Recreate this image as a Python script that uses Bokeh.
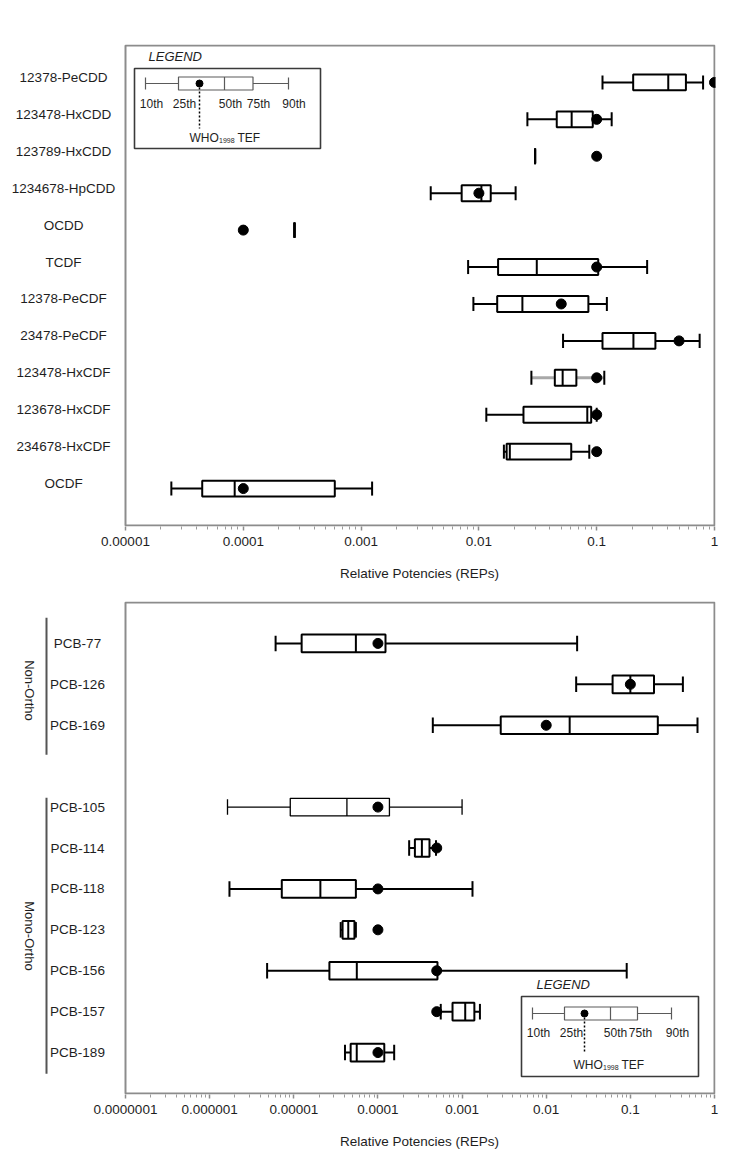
import math
from bokeh.plotting import figure
from bokeh.layouts import column
from bokeh.models import Range1d, FixedTicker, CustomJSTickFormatter, ColumnDataSource, Title
from bokeh.embed import file_html
from bokeh.resources import INLINE
from bokeh.core.properties import value

# ---------------- data: top panel (PCDD/PCDF) ----------------
top_names = ["12378-PeCDD", "123478-HxCDD", "123789-HxCDD", "1234678-HpCDD", "OCDD", "TCDF",
             "12378-PeCDF", "23478-PeCDF", "123478-HxCDF", "123678-HxCDF", "234678-HxCDF", "OCDF"]
top_pos = [1, 2, 3, 4, 5, 6, 7, 8, 9, 10, 11, 12]
top_p10 = [0.112, 0.0258, 0.030, 0.0039, 0.000272, 0.0081, 0.00898, 0.0518, 0.0279, 0.01156, 0.0163, 2.45e-5]
top_p25 = [0.204, 0.0458, 0.030, 0.00714, 0.000272, 0.01455, 0.0143, 0.112, 0.0441, 0.0239, 0.0172, 4.48e-5]
top_p50 = [0.405, 0.0613, 0.030, 0.0105, 0.000272, 0.031, 0.0234, 0.205, 0.0514, 0.0832, 0.0183, 8.45e-5]
top_p75 = [0.572, 0.0926, 0.030, 0.0126, 0.000272, 0.103, 0.085, 0.315, 0.0672, 0.0898, 0.0608, 5.98e-4]
top_p90 = [0.80, 0.134, 0.030, 0.0205, 0.000272, 0.268, 0.122, 0.748, 0.116, 0.1, 0.0865, 1.24e-3]
top_tef = [1.0, 0.1, 0.1, 0.01, 0.0001, 0.1, 0.05, 0.5, 0.1, 0.1, 0.1, 0.0001]

# ---------------- data: bottom panel (PCBs) ----------------
bot_names = ["PCB-77", "PCB-126", "PCB-169", "PCB-105", "PCB-114", "PCB-118", "PCB-123",
             "PCB-156", "PCB-157", "PCB-189"]
bot_pos = [1, 2, 3, 5, 6, 7, 8, 9, 10, 11]
bot_p10 = [6.08e-6, 0.0227, 4.49e-4, 1.63e-6, 2.35e-4, 1.72e-6, 3.61e-5, 4.82e-6, 5.58e-4, 4.06e-5]
bot_p25 = [1.24e-5, 0.0615, 2.88e-3, 9.08e-6, 2.75e-4, 7.2e-6, 3.8e-5, 2.65e-5, 7.7e-4, 4.74e-5]
bot_p50 = [5.47e-5, 0.1, 0.019, 4.28e-5, 3.33e-4, 2.07e-5, 4.44e-5, 5.61e-5, 1.09e-3, 5.6e-5]
bot_p75 = [1.23e-4, 0.191, 0.212, 1.37e-4, 4.10e-4, 5.47e-5, 5.26e-5, 5.1e-4, 1.40e-3, 1.19e-4]
bot_p90 = [0.0233, 0.421, 0.628, 0.001, 4.9e-4, 1.33e-3, 5.47e-5, 0.0905, 1.63e-3, 1.56e-4]
bot_tef = [1e-4, 0.1, 0.01, 1e-4, 5e-4, 1e-4, 1e-4, 5e-4, 5e-4, 1e-4]

groups = ["Non-Ortho", "Mono-Ortho"]
group_first = [1, 5]
group_last = [3, 11]

tick_decades_top = [-5, -4, -3, -2, -1, 0]
tick_decades_bot = [-7, -6, -5, -4, -3, -2, -1, 0]
axis_title = "Relative Potencies (REPs)"
legend_labels = ["10th", "25th", "50th", "75th", "90th"]

# styles (not data)
top_whisker_color = ["black"] * 8 + ["#a8a8a8"] + ["black"] * 3
top_whisker_width = [2] * 8 + [3] + [2] * 3
bot_line_width = [2, 2, 2, 1.3, 2, 2, 2, 2, 2, 2]
group_line_pad_start = [0.63, 0.23]
group_line_pad_end = [0.72, 0.52]

FONT = "Liberation Sans"
TXT = "#1e1e1e"
GRAY = "#8c8c8c"
BOX_X0, BOX_X1 = 125, 714  # page x of the plotting box


class Panel:
    """One panel: a log x axis under a box; the label area is part of the frame."""

    def __init__(self, decades, y_max, y0, y1, top_border, bottom_border):
        self.lo, self.hi = decades[0], decades[-1]
        self.y0, self.y1 = y0, y1
        self.y_max = y_max
        self.lpp = (self.hi - self.lo) / (BOX_X1 - BOX_X0)   # decades per pixel
        self.upp = y_max / (y1 - y0)                          # rows per pixel
        x_start = 10.0 ** (self.lo - BOX_X0 * self.lpp)
        x_end = 10.0 ** (self.hi + self.lpp)
        p = figure(x_axis_type="log", x_range=Range1d(x_start, x_end),
                   y_range=Range1d(y_max + self.upp, -self.upp),
                   frame_width=BOX_X1 + 1, frame_height=(y1 - y0) + 2,
                   min_border_top=top_border, min_border_bottom=bottom_border,
                   min_border_left=0, min_border_right=20,
                   output_backend="svg", toolbar_location=None, y_axis_location=None,
                   background_fill_color="white", border_fill_color="white")
        p.grid.visible = False
        p.outline_line_color = None
        ax = p.xaxis[0]
        major = [10.0 ** d for d in decades]
        minor = [m * 10.0 ** d for d in decades[:-1] for m in range(2, 10)]
        ax.ticker = FixedTicker(ticks=major, minor_ticks=minor)
        ax.formatter = CustomJSTickFormatter(
            code="const d = Math.max(0, -Math.round(Math.log10(tick))); return tick.toFixed(d);")
        ax.axis_line_color = None
        ax.major_tick_line_color = GRAY
        ax.major_tick_line_width = 1.5
        ax.minor_tick_line_color = "#9a9a9a"
        ax.major_tick_in = 0
        ax.major_tick_out = 4
        ax.minor_tick_in = 0
        ax.minor_tick_out = 3
        ax.major_label_standoff = 6
        ax.major_label_text_font = FONT
        ax.major_label_text_font_size = "13.5px"
        ax.major_label_text_color = TXT
        # axis title, centred under the plotting box (not under the whole frame)
        p.add_layout(Title(text=axis_title, align="left", offset=(BOX_X0 + BOX_X1) / 2 - 80,
                           text_font=FONT, text_font_size="13.5px", text_font_style="normal",
                           text_color=TXT, standoff=31), "below")
        # plotting box
        p.quad(left=[10.0 ** self.lo], right=[10.0 ** self.hi], top=[0], bottom=[y_max],
               fill_color=None, line_color=GRAY, line_width=2)
        self.p = p

    def dx(self, px):
        return 10.0 ** (self.lo + (px - BOX_X0) * self.lpp)

    def dy(self, py):
        return (py - self.y0) * self.upp

    def boxes(self, pos, p10, p25, p50, p75, p90, tef, wcol, wwid, lw):
        hb, hc = 0.215, 0.19
        src = ColumnDataSource(dict(
            y=pos, p10=p10, p25=p25, p50=p50, p75=p75, p90=p90, tef=tef,
            yt=[v - hb for v in pos], yb=[v + hb for v in pos],
            ct=[v - hc for v in pos], cb=[v + hc for v in pos],
            wcol=wcol, wwid=wwid, lw=lw))
        p = self.p
        p.segment(x0="p10", y0="y", x1="p90", y1="y", line_color="wcol", line_width="wwid", source=src)
        p.segment(x0="p10", y0="ct", x1="p10", y1="cb", line_color="black", line_width="lw", source=src)
        p.segment(x0="p90", y0="ct", x1="p90", y1="cb", line_color="black", line_width="lw", source=src)
        p.quad(left="p25", right="p75", top="yt", bottom="yb", fill_color="white",
               line_color="black", line_width="lw", source=src)
        p.segment(x0="p50", y0="yt", x1="p50", y1="yb", line_color="black", line_width="lw", source=src)
        p.scatter(x="tef", y="y", size=10, color="black", source=src)

    def row_labels(self, names, pos, center_px, y_off):
        self.p.text(x=[self.dx(center_px)] * len(names), y=pos, text=names, text_font=value(FONT),
                    text_font_size="13.5px", text_color=TXT, text_align="center",
                    text_baseline="middle", y_offset=y_off)

    def legend(self, L):
        p, dx, dy = self.p, self.dx, self.dy
        gcol = "#5a5a5a"
        p.quad(left=[dx(L["bx0"])], right=[dx(L["bx1"])], top=[dy(L["by0"])], bottom=[dy(L["by1"])],
               fill_color="white", line_color="#3a3a3a", line_width=1.6)
        p.text(x=[dx(L["title_x"])], y=[dy(L["title_y"])], text=["LEGEND"], text_font=value(FONT),
               text_font_size="13px", text_font_style="italic", text_color=TXT,
               text_align="left", text_baseline="middle")
        wy = dy(L["wy"])
        p.segment(x0=[dx(L["w0"])], y0=[wy], x1=[dx(L["w1"])], y1=[wy], line_color=gcol, line_width=1.2)
        for xx in (L["w0"], L["w1"]):
            p.segment(x0=[dx(xx)], y0=[dy(L["wy"] - 6)], x1=[dx(xx)], y1=[dy(L["wy"] + 6)],
                      line_color=gcol, line_width=1.2)
        p.quad(left=[dx(L["q0"])], right=[dx(L["q1"])], top=[dy(L["wy"] - 6.5)],
               bottom=[dy(L["wy"] + 6.5)], fill_color="white", line_color=gcol, line_width=1.2)
        p.segment(x0=[dx(L["med"])], y0=[dy(L["wy"] - 6.5)], x1=[dx(L["med"])], y1=[dy(L["wy"] + 6.5)],
                  line_color=gcol, line_width=1.2)
        p.segment(x0=[dx(L["dot"])], y0=[wy], x1=[dx(L["dot"])], y1=[dy(L["dash_end"])],
                  line_color="black", line_width=1.5, line_dash="2 2")
        p.scatter(x=[dx(L["dot"])], y=[wy], size=7, color="black")
        p.text(x=[dx(v) for v in L["lab_x"]], y=[dy(L["lab_y"])] * 5, text=legend_labels,
               text_font=value(FONT), text_font_size="12px", text_color=TXT,
               text_align="center", text_baseline="middle")
        wx = L["who_x"]
        p.text(x=[dx(wx)], y=[dy(L["who_y"])], text=["WHO"], text_font=value(FONT),
               text_font_size="12px", text_color=TXT, text_align="left", text_baseline="middle")
        p.text(x=[dx(wx + 29.5)], y=[dy(L["who_y"] + 3)], text=["1998"], text_font=value(FONT),
               text_font_size="7px", text_color=TXT, text_align="left", text_baseline="middle")
        p.text(x=[dx(wx + 48)], y=[dy(L["who_y"])], text=["TEF"], text_font=value(FONT),
               text_font_size="12px", text_color=TXT, text_align="left", text_baseline="middle")


# ---------------- top panel ----------------
top = Panel(tick_decades_top, 13, 45, 525, 44, 71)
top.boxes(top_pos, top_p10, top_p25, top_p50, top_p75, top_p90, top_tef,
          top_whisker_color, top_whisker_width, [2] * len(top_pos))
top.legend(dict(
    bx0=134, bx1=320, by0=68, by1=148, title_x=148, title_y=56, wy=83,
    w0=145, w1=288, q0=178, q1=252.5, med=224, dot=199, dash_end=128,
    lab_x=[151, 184, 230, 258, 293.5], lab_y=103, who_x=189, who_y=137))
top.row_labels(top_names, top_pos, 63, -5)

# ---------------- bottom panel ----------------
bot = Panel(tick_decades_bot, 12, 602, 1093, 4, 68)
bot.boxes(bot_pos, bot_p10, bot_p25, bot_p50, bot_p75, bot_p90, bot_tef,
          ["black"] * len(bot_pos), bot_line_width, bot_line_width)
bot.legend(dict(
    bx0=521, bx1=698, by0=996, by1=1076, title_x=536, title_y=984, wy=1013,
    w0=532, w1=671, q0=564, q1=637, med=610, dot=584, dash_end=1052,
    lab_x=[538, 571, 615, 640, 677], lab_y=1032, who_x=573, who_y=1064))
bot.row_labels(bot_names, bot_pos, 77, 0)

g_mid = [(a + b) / 2 + 0.15 for a, b in zip(group_first, group_last)]
bot.p.text(x=[bot.dx(29)] * len(groups), y=g_mid, text=groups, angle=-math.pi / 2,
           text_font=value(FONT), text_font_size="13px", text_color=TXT,
           text_align="center", text_baseline="middle")
bot.p.segment(x0=[bot.dx(46)] * len(groups),
              y0=[a - s for a, s in zip(group_first, group_line_pad_start)],
              x1=[bot.dx(46)] * len(groups),
              y1=[b + e for b, e in zip(group_last, group_line_pad_end)],
              line_color="#555555", line_width=2)

layout = column(top.p, bot.p, spacing=0)
open("out.html", "w").write(file_html(layout, INLINE))
